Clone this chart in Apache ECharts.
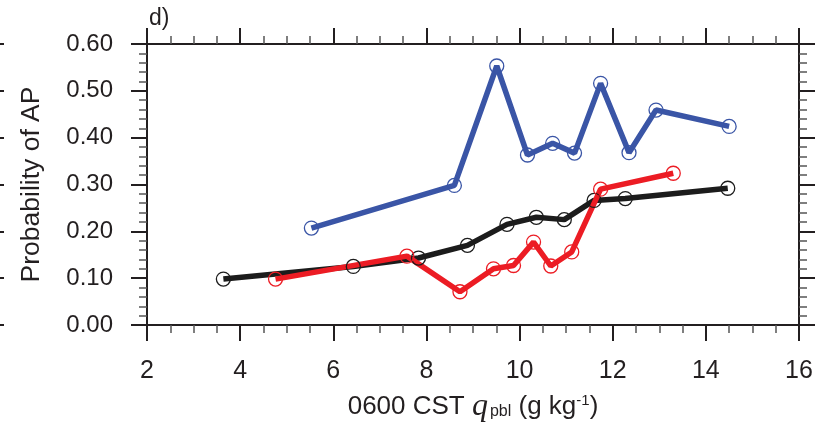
<!DOCTYPE html>
<html>
<head>
<meta charset="utf-8">
<script src="https://cdn.jsdelivr.net/npm/echarts@6/dist/echarts.min.js"></script>
<style>
  html, body { margin: 0; padding: 0; background: #fff; }
  #chart { width: 831px; height: 423px; }
</style>
</head>
<body>
<div id="chart"></div>
<script>
// Probability of AP against 0600 CST boundary-layer humidity q_pbl (g/kg)
const xTicks = [2, 4, 6, 8, 10, 12, 14, 16];
const yTicks = [0.0, 0.1, 0.2, 0.3, 0.4, 0.5, 0.6];

const blackQ = [3.64, 6.43, 7.83, 8.88, 9.73, 10.36, 10.96, 11.60, 12.27, 14.47];
const blackP = [0.098, 0.125, 0.143, 0.170, 0.215, 0.230, 0.225, 0.266, 0.270, 0.292];

const redQ = [4.76, 7.58, 8.72, 9.44, 9.87, 10.30, 10.67, 11.12, 11.74, 13.30];
const redP = [0.098, 0.147, 0.071, 0.120, 0.127, 0.177, 0.126, 0.156, 0.290, 0.324];

const blueQ = [5.53, 8.60, 9.51, 10.17, 10.71, 11.18, 11.74, 12.35, 12.93, 14.50];
const blueP = [0.207, 0.298, 0.553, 0.363, 0.388, 0.367, 0.516, 0.368, 0.459, 0.424];

const AXIS = '#231f20';
const FONT = '"Liberation Sans", Arial, Helvetica, sans-serif';

function pairs(xs, ys) { return xs.map((x, i) => [x, ys[i]]); }

function lineSeries(xs, ys, color) {
  return {
    type: 'line',
    data: pairs(xs, ys),
    symbol: 'circle',
    symbolSize: 14,
    lineStyle: { color: color, width: 5.5 },
    itemStyle: { color: 'rgba(0,0,0,0)', borderColor: color, borderWidth: 1.3 },
    emphasis: { disabled: true },
    animation: false,
    z: 3
  };
}

const majorTick = { show: true, inside: false, length: 16, lineStyle: { color: AXIS, width: 2 } };
const minorTick = (n) => ({ show: true, splitNumber: n, length: 8, lineStyle: { color: '#555', width: 1.5 } });

const chart = echarts.init(document.getElementById('chart'), null, { renderer: 'canvas' });
chart.setOption({
  backgroundColor: '#fff',
  animation: false,
  title: {
    text: 'd)', left: 144, top: 2,
    textStyle: { fontFamily: FONT, fontSize: 23, fontWeight: 'normal', color: AXIS }
  },
  grid: { left: 147, right: 32, top: 44, bottom: 98, containLabel: false, outerBoundsMode: 'none' },
  xAxis: [
    {
      type: 'value', position: 'bottom',
      min: xTicks[0], max: xTicks[xTicks.length - 1], interval: 2,
      axisLine: { show: true, onZero: false, lineStyle: { color: AXIS, width: 2 } },
      axisTick: majorTick,
      minorTick: minorTick(4),
      splitLine: { show: false },
      axisLabel: { margin: 34, fontFamily: FONT, fontSize: 25, color: AXIS },
      name: '{t|0600 CST }{q|q}{s|pbl}{t| (g kg}{u|-1}{t|)}',
      nameLocation: 'middle', nameGap: 66,
      nameTextStyle: {
        rich: {
          t: { fontFamily: FONT, fontSize: 26, color: AXIS },
          q: { fontFamily: '"Liberation Serif", "DejaVu Serif", serif', fontStyle: 'italic', fontSize: 32, color: AXIS },
          s: { fontFamily: FONT, fontSize: 16, color: AXIS, padding: [10, 0, 0, 2] },
          u: { fontFamily: FONT, fontSize: 15, color: AXIS, padding: [0, 0, 12, 0] }
        }
      }
    },
    {
      type: 'value', position: 'top',
      min: xTicks[0], max: xTicks[xTicks.length - 1], interval: 2,
      axisLine: { show: true, onZero: false, lineStyle: { color: AXIS, width: 2 } },
      axisTick: majorTick,
      minorTick: minorTick(4),
      splitLine: { show: false },
      axisLabel: { show: false }
    }
  ],
  yAxis: [
    {
      type: 'value', position: 'left',
      min: yTicks[0], max: yTicks[yTicks.length - 1], interval: 0.1,
      axisLine: { show: true, onZero: false, lineStyle: { color: AXIS, width: 2 } },
      axisTick: majorTick,
      minorTick: minorTick(5),
      splitLine: { show: false },
      axisLabel: {
        margin: 34, fontFamily: FONT, fontSize: 24, color: AXIS,
        formatter: (v) => v.toFixed(2)
      },
      name: 'Probability of AP',
      nameLocation: 'middle', nameGap: 102,
      nameTextStyle: { fontFamily: FONT, fontSize: 26.5, color: AXIS }
    },
    {
      type: 'value', position: 'right',
      min: yTicks[0], max: yTicks[yTicks.length - 1], interval: 0.1,
      axisLine: { show: true, onZero: false, lineStyle: { color: AXIS, width: 2 } },
      axisTick: majorTick,
      minorTick: minorTick(5),
      splitLine: { show: false },
      axisLabel: { show: false }
    },
    {
      // tick stubs of the neighbouring panel at the far left edge
      type: 'value', position: 'left', offset: 143,
      min: yTicks[0], max: yTicks[yTicks.length - 1], interval: 0.1,
      axisLine: { show: false },
      axisTick: { show: true, length: 4, lineStyle: { color: AXIS, width: 2 } },
      splitLine: { show: false },
      axisLabel: { show: false }
    }
  ],
  series: [
    lineSeries(blackQ, blackP, '#1c1c1c'),
    lineSeries(redQ, redP, '#ec1c24'),
    lineSeries(blueQ, blueP, '#3a55a6')
  ]
});
</script>
</body>
</html>
